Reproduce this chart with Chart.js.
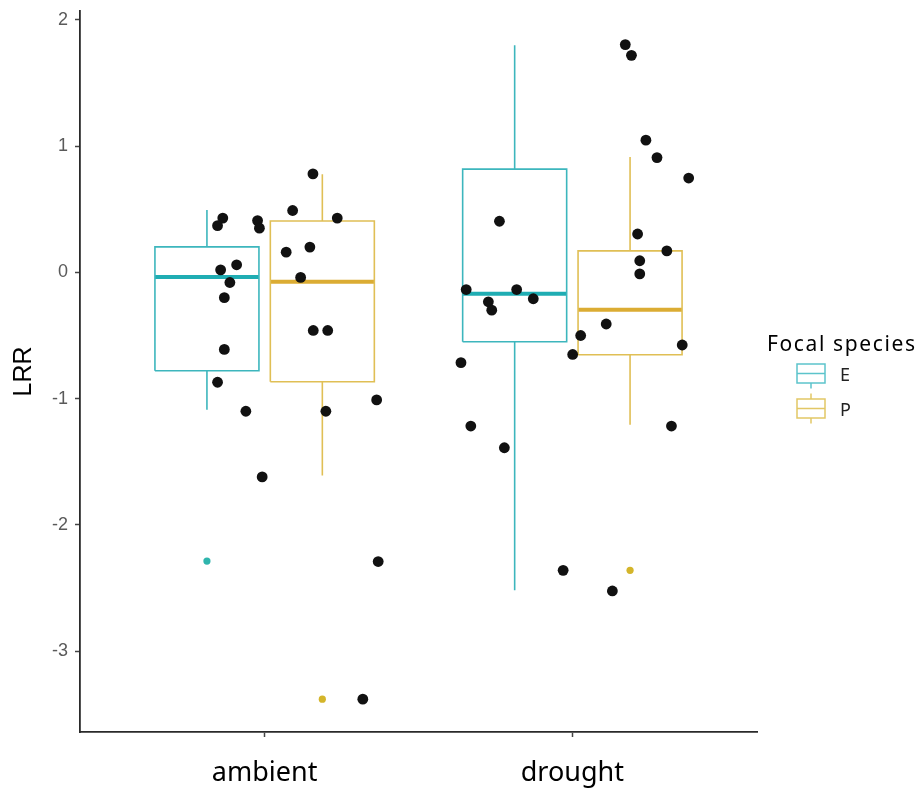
<!DOCTYPE html>
<html><head><meta charset="utf-8">
<script src="https://cdn.jsdelivr.net/npm/chart.js@4.4.1/dist/chart.umd.min.js"></script>
<style>html,body{margin:0;padding:0;background:#fff}canvas{display:block}</style>
</head><body>
<canvas id="c" width="920" height="792"></canvas>
<script>
// ---------- data ----------
const categories = ['ambient', 'drought'];
const categoryPos = [1, 2];
const yTickValues = [-3, -2, -1, 0, 1, 2];
const yMin = -3.64, yMax = 2.07;
const legendTitle = 'Focal species';
const speciesNames = ['E', 'P'];

// box statistics per category (ambient, drought)
const E_whiskerLow  = [-1.087, -2.518];
const E_q1          = [-0.779, -0.549];
const E_median      = [-0.036, -0.170];
const E_q3          = [ 0.202,  0.818];
const E_whiskerHigh = [ 0.494,  1.798];
const E_outliers    = [[-2.286], []];

const P_whiskerLow  = [-1.609, -1.206];
const P_q1          = [-0.866, -0.652];
const P_median      = [-0.075, -0.296];
const P_q3          = [ 0.407,  0.170];
const P_whiskerHigh = [ 0.777,  0.913];
const P_outliers    = [[-3.38], [-2.36]];

// jittered raw observations (x in category units, y = LRR)
const jitterX = [
  0.864, 0.847, 0.977, 0.983, 1.091, 1.236, 1.070, 1.147, 0.857, 0.909, 0.887, 1.117,
  0.869, 1.158, 1.205, 0.869, 0.847, 1.364, 0.939, 1.199, 0.992, 1.157, 1.369, 1.319,
  2.172, 2.192, 2.239, 2.275, 2.378, 1.763, 2.212, 2.307, 2.219, 2.219, 1.655, 1.819,
  1.873, 1.727, 1.738, 2.110, 2.027, 2.357, 2.001, 1.638, 1.670, 2.322, 1.779, 1.970, 2.130
];
const jitterY = [
  0.43, 0.37, 0.41, 0.35, 0.49, 0.43, 0.16, 0.20, 0.02, 0.06, -0.08, -0.04,
  -0.20, -0.46, -0.46, -0.61, -0.87, -1.01, -1.10, -1.10, -1.62, 0.78, -2.29, -3.38,
  1.804, 1.719, 1.047, 0.909, 0.747, 0.405, 0.304, 0.170, 0.092, -0.012, -0.136, -0.136,
  -0.209, -0.233, -0.299, -0.409, -0.500, -0.575, -0.650, -0.715, -1.217, -1.217, -1.389, -2.360, -2.523
];

// ---------- styles ----------
const lineColors = ['#3db6bd', '#e0bf55'];
const medianColors = ['#1fadb3', '#dbac33'];
const outlierColors = ['#2fb5ad', '#d4b52a'];
const keyColors = ['#5cc4cb', '#e2c766'];
const dodge = 0.1875, halfW = 0.169;

function boxDatasets(si, whLo, q1, med, q3, whHi, outl) {
  const off = si === 0 ? -dodge : dodge;
  const rect = [], whisk = [], meds = [], outs = [];
  categoryPos.forEach((c, i) => {
    const xc = c + off, x0 = xc - halfW, x1 = xc + halfW;
    rect.push({x: x0, y: q1[i]}, {x: x1, y: q1[i]}, {x: x1, y: q3[i]}, {x: x0, y: q3[i]}, {x: x0, y: q1[i]}, {x: x0, y: null});
    whisk.push({x: xc, y: whLo[i]}, {x: xc, y: q1[i]}, {x: xc, y: null}, {x: xc, y: q3[i]}, {x: xc, y: whHi[i]}, {x: xc, y: null});
    meds.push({x: x0, y: med[i]}, {x: x1, y: med[i]}, {x: x1, y: null});
    outl[i].forEach(v => outs.push({x: xc, y: v}));
  });
  const base = {showLine: true, pointRadius: 0, spanGaps: false, fill: false, order: 2, borderCapStyle: 'butt'};
  return [
    Object.assign({label: speciesNames[si] + ' box', data: rect, borderColor: lineColors[si], borderWidth: 1.6}, base),
    Object.assign({label: speciesNames[si] + ' whisker', data: whisk, borderColor: lineColors[si], borderWidth: 1.6}, base),
    Object.assign({label: speciesNames[si] + ' median', data: meds, borderColor: medianColors[si], borderWidth: 4}, base),
    {label: speciesNames[si] + ' outliers', data: outs, showLine: false, pointRadius: 3.6, pointBackgroundColor: outlierColors[si], pointBorderWidth: 0, order: 2}
  ];
}

const datasets = [
  {label: 'obs', data: jitterX.map((x, i) => ({x: x, y: jitterY[i]})), showLine: false,
   pointRadius: 5.4, pointBackgroundColor: '#111111', pointBorderWidth: 0, order: 0},
  ...boxDatasets(0, E_whiskerLow, E_q1, E_median, E_q3, E_whiskerHigh, E_outliers),
  ...boxDatasets(1, P_whiskerLow, P_q1, P_median, P_q3, P_whiskerHigh, P_outliers)
];

const legendPlugin = {
  id: 'focalLegend',
  afterDraw(chart) {
    const ctx = chart.ctx;
    const left = chart.chartArea.right + 10;
    ctx.save();
    ctx.fillStyle = '#000';
    ctx.font = '21px "Noto Sans"';
    ctx.textBaseline = 'alphabetic';
    const w = ctx.measureText(legendTitle).width;
    const target = 148;
    ctx.letterSpacing = Math.max(0, (target - w) / (legendTitle.length - 1)).toFixed(2) + 'px';
    ctx.fillText(legendTitle, left, 351);
    ctx.letterSpacing = '0px';
    const centers = [373.5, 408.5];
    speciesNames.forEach((name, i) => {
      const cy = centers[i];
      const bx0 = left + 30, bx1 = left + 58, xm = (bx0 + bx1) / 2;
      ctx.strokeStyle = keyColors[i];
      ctx.lineWidth = 1.5;
      ctx.strokeRect(bx0, cy - 9.5, bx1 - bx0, 19);
      ctx.beginPath();
      ctx.moveTo(bx0, cy); ctx.lineTo(bx1, cy);
      ctx.moveTo(xm, cy + 9.5); ctx.lineTo(xm, cy + 15);
      if (i > 0) { ctx.moveTo(xm, cy - 9.5); ctx.lineTo(xm, cy - 15); }
      ctx.stroke();
      ctx.fillStyle = '#222';
      ctx.font = '18px "Noto Sans"';
      ctx.textBaseline = 'middle';
      ctx.fillText(name, left + 73, cy + 2);
    });
    ctx.restore();
  }
};

const axisGrid = {display: true, drawOnChartArea: false, drawTicks: true, tickLength: 5, tickColor: '#444', tickWidth: 1.5};
const axisBorder = {display: true, color: '#2a2a2a', width: 1.8};

new Chart(document.getElementById('c'), {
  type: 'scatter',
  data: {datasets},
  options: {
    responsive: false,
    animation: false,
    events: [],
    devicePixelRatio: 1,
    layout: {padding: {top: 11, right: 163, bottom: 0, left: 0}},
    plugins: {legend: {display: false}, tooltip: {enabled: false}},
    scales: {
      x: {
        type: 'linear', min: 0.4, max: 2.6,
        afterBuildTicks: s => { s.ticks = categoryPos.map(v => ({value: v})); },
        afterFit: s => { s.height = 60; s.paddingLeft = 0; s.paddingRight = 0; },
        ticks: {autoSkip: false, maxRotation: 0, padding: 20, color: '#000',
                font: {family: 'Noto Sans', size: 27},
                callback: v => categories[categoryPos.indexOf(v)]},
        grid: axisGrid, border: axisBorder
      },
      y: {
        type: 'linear', min: yMin, max: yMax,
        afterBuildTicks: s => { s.ticks = yTickValues.map(v => ({value: v})); },
        afterFit: s => { s.width = 80; s.paddingTop = 0; s.paddingBottom = 0; },
        ticks: {padding: 7, color: '#5a5a5a', font: {family: 'Liberation Sans', size: 18},
                callback: v => String(v)},
        grid: axisGrid, border: axisBorder,
        title: {display: true, text: 'LRR', color: '#000', font: {family: 'Liberation Sans', size: 25}, padding: {top: 9, bottom: 0}}
      }
    }
  },
  plugins: [legendPlugin]
});
</script>
</body></html>
